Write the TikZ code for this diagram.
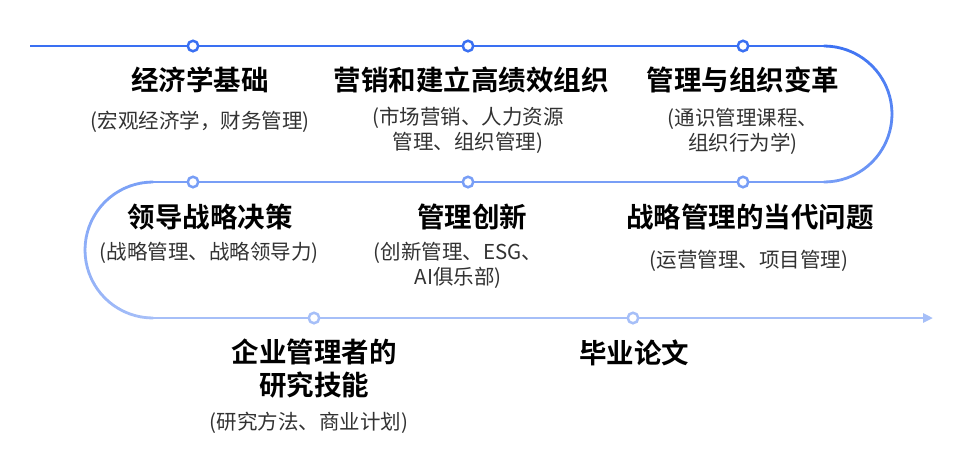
\documentclass[tikz,border=0pt]{standalone}
\usepackage{fontspec}
\setmainfont{Noto Sans CJK SC}[BoldFont={Noto Sans CJK SC Bold}]
\usetikzlibrary{arrows.meta}
\definecolor{cA}{RGB}{58,112,242}
\definecolor{cB}{RGB}{120,158,246}
\definecolor{cC}{RGB}{166,191,248}
\definecolor{subc}{RGB}{50,50,50}
\tikzset{
  ttl/.style={font=\fontsize{27.5}{33}\selectfont\bfseries, text=black, align=center, inner sep=0pt},
  sub/.style={font=\fontsize{20.5}{25}\selectfont, text=subc, align=center, inner sep=0pt},
  dot/.style={circle, fill=white, draw=#1, line width=2.5pt, minimum size=10.5pt, inner sep=0pt},
  track/.style={line width=2.8pt, draw=#1}
}
\begin{document}
\begin{tikzpicture}[x=1pt,y=-1pt]
\useasboundingbox (0,0) rectangle (960,459);
% track points
\coordinate (s0) at (30,46);
\coordinate (a1) at (193,46);
\coordinate (a2) at (468,46);
\coordinate (a3) at (743,46);
\coordinate (r0) at (824,46);
\coordinate (r1) at (824,182);
\coordinate (b3) at (743,182);
\coordinate (b2) at (468,182);
\coordinate (b1) at (193,182);
\coordinate (l0) at (153,182);
\coordinate (l1) at (153,318);
\coordinate (c1) at (314,318);
\coordinate (c2) at (633,318);
\coordinate (e0) at (933,318);
% straight lines
\draw[track=cA] (s0) -- (r0);
\draw[track=cB] (r1) -- (l0);
\draw[track=cC, -{Triangle[length=10pt,width=9pt]}] (l1) -- (e0);
% right arc (gradient cA -> cB)
\foreach \i in {0,...,35}{
  \pgfmathsetmacro{\aa}{-90+5*\i}
  \pgfmathsetmacro{\ab}{-90+5*(\i+1)}
  \pgfmathtruncatemacro{\pc}{100*\i/35}
  \colorlet{tmpc}{cB!\pc!cA}
  \draw[track=tmpc, line cap=round] ({824+68*cos(\aa)},{114+68*sin(\aa)}) -- ({824+68*cos(\ab)},{114+68*sin(\ab)});
}
% left arc (gradient cB -> cC)
\foreach \i in {0,...,35}{
  \pgfmathsetmacro{\aa}{-90+5*\i}
  \pgfmathsetmacro{\ab}{-90+5*(\i+1)}
  \pgfmathtruncatemacro{\pc}{100*\i/35}
  \colorlet{tmpc}{cC!\pc!cB}
  \draw[track=tmpc, line cap=round] ({153-68*cos(\aa)},{250+68*sin(\aa)}) -- ({153-68*cos(\ab)},{250+68*sin(\ab)});
}
% dots
\node[dot=cA] (d1) at (a1) {};
\node[dot=cA] (d2) at (a2) {};
\node[dot=cA] (d3) at (a3) {};
\node[dot=cB] (d4) at (b1) {};
\node[dot=cB] (d5) at (b2) {};
\node[dot=cB] (d6) at (b3) {};
\node[dot=cC] (d7) at (c1) {};
\node[dot=cC] (d8) at (c2) {};
% row 1
\node[ttl] (t1) at (200,80) {经济学基础};
\node[sub] (s1) at (200,122) {(宏观经济学，财务管理)};
\node[ttl] (t2) at (471,80) {营销和建立高绩效组织};
\node[sub] (s2) at (468,130) {(市场营销、人力资源\\管理、组织管理)};
\node[ttl] (t3) at (743,80) {管理与组织变革};
\node[sub] (s3) at (743,131) {(通识管理课程、\\组织行为学)};
% row 2
\node[ttl] (t4) at (210,217) {领导战略决策};
\node[sub] (s4) at (209,253) {(战略管理、战略领导力)};
\node[ttl] (t5) at (472,217) {管理创新};
\node[sub] (s5) at (458,265) {(创新管理、ESG、\\AI俱乐部)};
\node[ttl] (t6) at (750,217) {战略管理的当代问题};
\node[sub] (s6) at (749,261) {(运营管理、项目管理)};
% row 3
\node[ttl] (t7) at (314,369) {企业管理者的\\研究技能};
\node[sub] (s7) at (309,423) {(研究方法、商业计划)};
\node[ttl] (t8) at (634,353) {毕业论文};
\end{tikzpicture}
\end{document}
